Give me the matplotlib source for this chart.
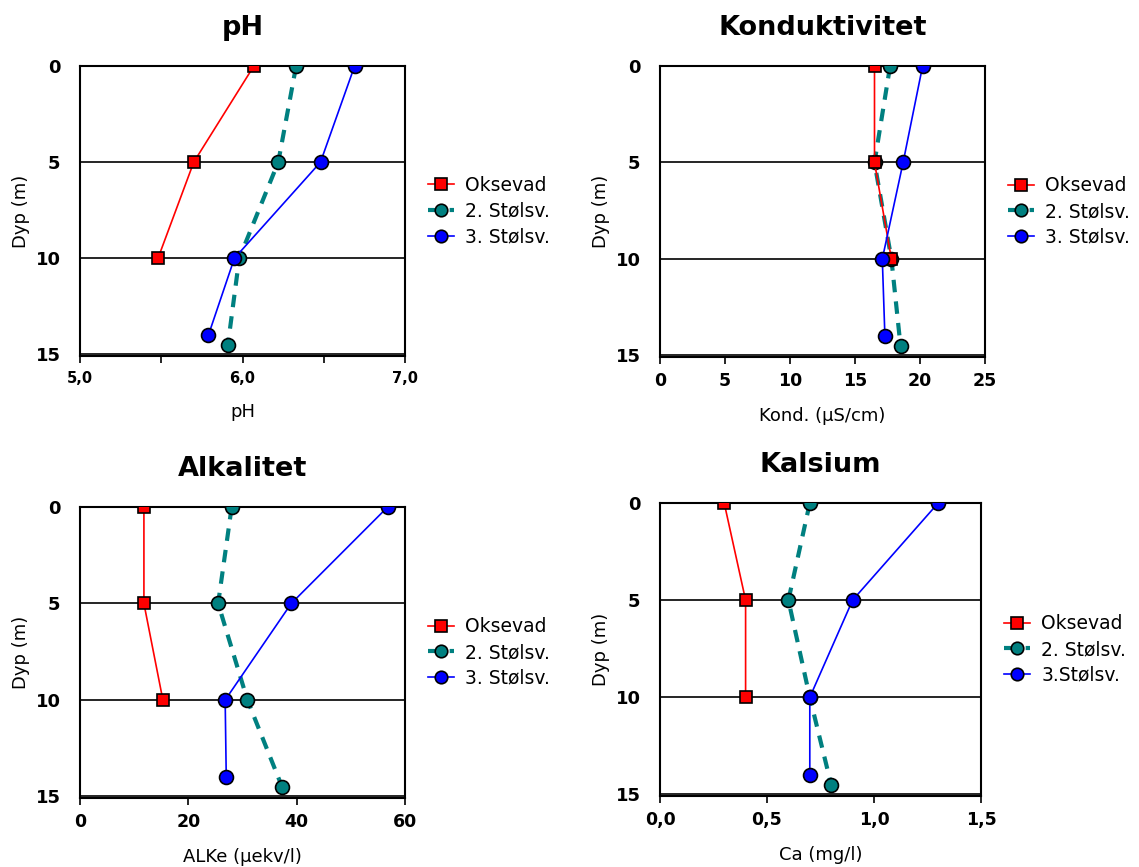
import matplotlib
matplotlib.use("Agg")
import matplotlib.pyplot as plt

# Depths (m)
depth_oks = [0, 5, 10]
depth_st2 = [0, 5, 10, 14.5]
depth_st3 = [0, 5, 10, 14]

# pH
ph_oks = [6.07, 5.70, 5.48]
ph_st2 = [6.33, 6.22, 5.98, 5.91]
ph_st3 = [6.69, 6.48, 5.95, 5.79]

# Konduktivitet (uS/cm)
kond_oks = [16.5, 16.5, 17.8]
kond_st2 = [17.7, 16.5, 17.8, 18.5]
kond_st3 = [20.2, 18.7, 17.1, 17.3]

# Alkalitet (uekv/l)
alk_oks = [11.8, 11.8, 15.3]
alk_st2 = [28.0, 25.5, 30.9, 37.3]
alk_st3 = [56.8, 39.0, 26.8, 27.0]

# Kalsium (mg/l)
ca_oks = [0.30, 0.40, 0.40]
ca_st2 = [0.70, 0.60, 0.70, 0.80]
ca_st3 = [1.30, 0.90, 0.70, 0.70]

titles = ["pH", "Konduktivitet", "Alkalitet", "Kalsium"]
xlabels = ["pH", "Kond. (µS/cm)", "ALKe (µekv/l)", "Ca (mg/l)"]
legend_labels = [
    ["Oksevad", "2. Stølsv.", "3. Stølsv."],
    ["Oksevad", "2. Stølsv.", "3. Stølsv."],
    ["Oksevad", "2. Stølsv.", "3. Stølsv."],
    ["Oksevad", "2. Stølsv.", "3.Stølsv."],
]
xticks_major = [[5.0, 6.0, 7.0], [0, 5, 10, 15, 20, 25], [0, 20, 40, 60], [0.0, 0.5, 1.0, 1.5]]
xtick_labels = [["5,0", "6,0", "7,0"], ["0", "5", "10", "15", "20", "25"],
                ["0", "20", "40", "60"], ["0,0", "0,5", "1,0", "1,5"]]
xticks_minor = [[5.5, 6.5], [], [], []]
xlims = [(5, 7), (0, 25), (0, 60), (0, 1.5)]
yticks = [0, 5, 10, 15]

data = [
    (ph_oks, ph_st2, ph_st3),
    (kond_oks, kond_st2, kond_st3),
    (alk_oks, alk_st2, alk_st3),
    (ca_oks, ca_st2, ca_st3),
]

W, H = 1139, 867
fig = plt.figure(figsize=(W / 100, H / 100), dpi=100)
plt.rcParams['font.family'] = ['DejaVu Sans']

rects = [
    (80, 66, 405, 356),
    (660, 66, 985, 357),
    (80, 507, 405, 798),
    (660, 503, 981, 796),
]

teal = "#008080"
xtick_fs = [10.5, 12.5, 12.5, 12.5]

for i, (l, t, r, b) in enumerate(rects):
    ax = fig.add_axes([l / W, 1 - b / H, (r - l) / W, (b - t) / H])
    oks, st2, st3 = data[i]
    ax.plot(oks, depth_oks, color="red", lw=1.2, marker="s", ms=9,
            mfc="red", mec="black", mew=1.2, label=legend_labels[i][0], zorder=4)
    ax.plot(st2, depth_st2, color=teal, lw=3, ls=(0, (3, 2.2)), marker="o", ms=10,
            mfc=teal, mec="black", mew=1.2, label=legend_labels[i][1], zorder=3)
    ax.plot(st3, depth_st3, color="blue", lw=1.2, marker="o", ms=10,
            mfc="blue", mec="black", mew=1.2, label=legend_labels[i][2], zorder=5)
    for yy in (5, 10, 15):
        ax.axhline(yy, color="black", lw=1.2, zorder=1)
    ax.set_xlim(*xlims[i])
    ax.set_ylim(15.08, 0)
    ax.set_yticks(yticks)
    ax.set_yticklabels([str(v) for v in yticks], fontsize=13, fontweight="bold")
    ax.tick_params(axis="y", length=0, pad=14)
    ax.set_xticks(xticks_major[i])
    ax.set_xticklabels(xtick_labels[i], fontsize=xtick_fs[i], fontweight="bold")
    if xticks_minor[i]:
        ax.set_xticks(xticks_minor[i], minor=True)
        ax.tick_params(axis="x", which="minor", length=5, width=1.2, direction="out")
    ax.tick_params(axis="x", which="major", length=5, width=1.2, direction="out", pad=6)
    for s in ax.spines.values():
        s.set_linewidth(1.5)
        s.set_color("black")
    ax.set_title(titles[i], fontsize=19.5, fontweight="bold", pad=22)
    ax.set_xlabel(xlabels[i], fontsize=13, labelpad=12)
    ax.set_ylabel("Dyp (m)", fontsize=13, labelpad=4)
    ax.legend(loc="center left", bbox_to_anchor=(1.03, 0.5), frameon=False,
              fontsize=13.5, handlelength=1.4, labelspacing=0.35, handletextpad=0.6,
              markerscale=0.9, borderaxespad=0.3)

fig.savefig("out.png", dpi=100)
